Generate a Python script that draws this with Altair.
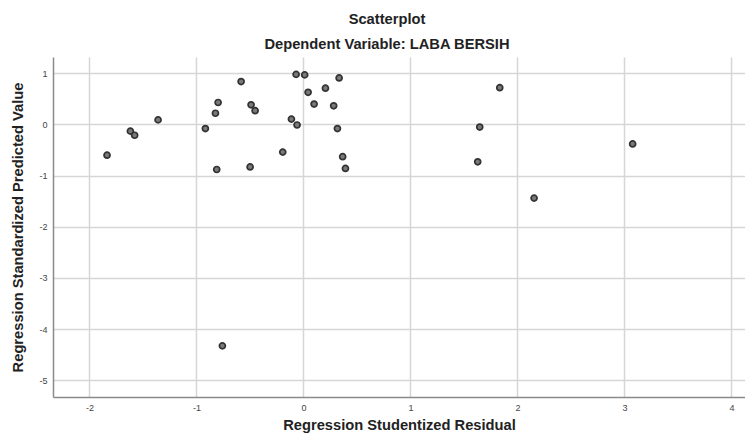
import altair as alt
import pandas as pd

residual = [-1.835, -1.617, -1.577, -1.358, -0.916, -0.822, -0.797, -0.81, -0.582, -0.489,
            -0.451, -0.498, -0.193, -0.112, -0.059, -0.068, 0.012, 0.044, 0.10, 0.206,
            0.283, 0.334, 0.318, 0.367, 0.393, 1.835, 1.648, 1.629, 2.156, 3.077, -0.757]
predicted = [-0.60, -0.13, -0.21, 0.09, -0.08, 0.22, 0.43, -0.88, 0.84, 0.385,
             0.27, -0.83, -0.54, 0.105, -0.01, 0.98, 0.97, 0.63, 0.40, 0.71,
             0.365, 0.91, -0.08, -0.63, -0.86, 0.72, -0.05, -0.73, -1.44, -0.38, -4.33]
x_ticks = [-2, -1, 0, 1, 2, 3, 4]
y_ticks = [-5, -4, -3, -2, -1, 0, 1]

df = pd.DataFrame({"res": residual, "pred": predicted})

FONT = "Liberation Sans"

chart = alt.Chart(df).mark_point(
    filled=True, shape="circle", size=36, fill="#7a7a7a", stroke="#333333", strokeWidth=1.7, opacity=1
).encode(
    x=alt.X("res:Q", scale=alt.Scale(domain=[-2.34, 4.127], nice=False, zero=False),
            axis=alt.Axis(values=x_ticks, title="Regression Studentized Residual",
                          labelExpr="'' + datum.value", titlePadding=5)),
    y=alt.Y("pred:Q", scale=alt.Scale(domain=[-5.33, 1.32], nice=False, zero=False),
            axis=alt.Axis(values=y_ticks, title="Regression Standardized Predicted Value",
                          labelExpr="'' + datum.value", titlePadding=13)),
).properties(
    width=692, height=340,
    autosize=alt.AutoSizeParams(type="none"),
    padding={"left": 45, "top": 49, "right": 0, "bottom": 38},
    title=alt.TitleParams(text="Scatterplot", subtitle="Dependent Variable: LABA BERSIH",
                          anchor="middle", dx=-12, offset=5),
).configure_view(stroke=None).configure_axis(
    grid=True, gridColor="#d6d6d6", gridWidth=1.5, domainColor="#8a8a8a", domainWidth=1.5,
    ticks=False, labelFont=FONT, labelFontSize=9, labelColor="#444444", labelPadding=6,
    titleFont=FONT, titleFontSize=14.7, titleFontWeight="bold", titleColor="#222222",
).configure_title(
    font=FONT, fontSize=14.7, fontWeight="bold", color="#222222",
    subtitleFont=FONT, subtitleFontSize=14.7, subtitleFontWeight="bold", subtitleColor="#222222",
    subtitlePadding=11,
)

chart.save("out.html", embed_options={"renderer": "svg", "actions": False})
